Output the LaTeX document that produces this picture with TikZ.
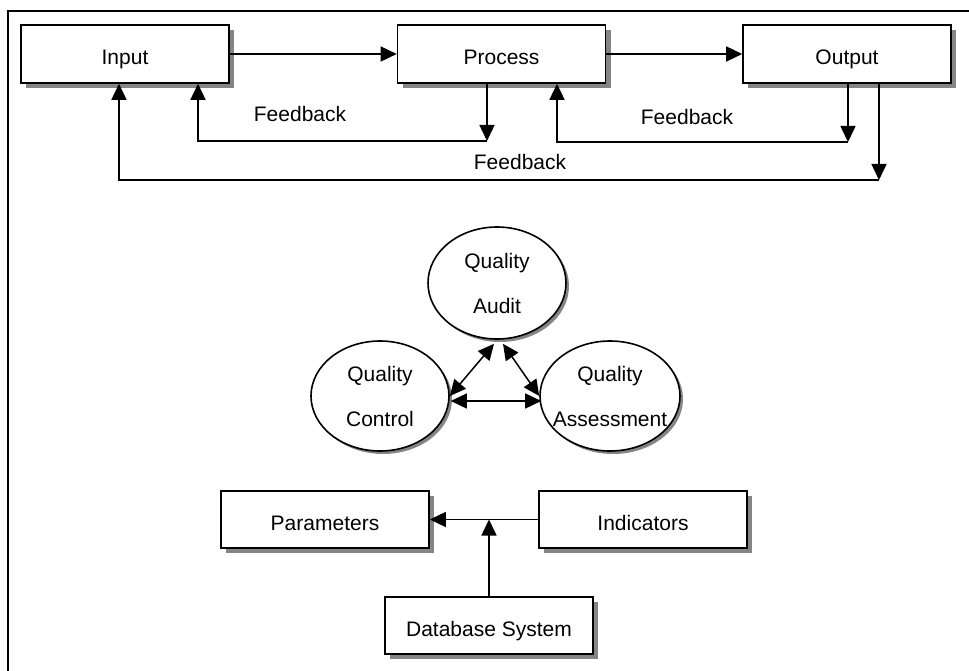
\documentclass[tikz,border=0pt]{standalone}
\usepackage{fontspec}
\setmainfont{Liberation Sans}
\usetikzlibrary{arrows.meta,shapes.geometric,shadows,calc}
\tikzset{
  boxnode/.style={draw, line width=1.6pt, fill=white, minimum width=208pt, minimum height=58pt, inner sep=0pt,
    text height=21pt, text depth=0pt,
    drop shadow={shadow xshift=5pt, shadow yshift=-5pt, fill=black!48, opacity=1}},
  ellnode/.style={ellipse, draw, line width=1.6pt, fill=white, minimum width=138pt, minimum height=112pt,
    inner xsep=-12pt, inner ysep=0pt, align=center,
    drop shadow={shadow xshift=3pt, shadow yshift=-3pt, fill=black!48, opacity=1}},
  arr/.style={line width=1.5pt, -{Triangle[length=16pt,width=15pt]}},
  darr/.style={line width=1.5pt, {Triangle[length=16pt,width=15pt]}-{Triangle[length=16pt,width=15pt]}},
  lbl/.style={inner sep=0pt},
  frame/.style={line width=1.6pt}
}
\begin{document}
\begin{tikzpicture}[x=1pt,y=-1pt, font=\fontsize{21}{25}\selectfont]
\useasboundingbox (0,0) rectangle (969,671);
% frame
\coordinate (fr0) at (8,11);
\coordinate (fr1) at (969,11);
\coordinate (fr2) at (8,671);
\draw[frame] (fr1) -- (fr0) -- (fr2);
% top row
\node[boxnode] (in) at (125,54) {Input};
\node[boxnode] (pr) at (501.5,54) {Process};
\node[boxnode] (out) at (847,54) {Output};
\draw[arr] (in.east) -- (pr.west);
\draw[arr] (pr.east) -- (out.west);
% feedback 1
\coordinate (c1) at (487,141);
\coordinate (c2) at (198,141);
\draw[arr] (pr.south -| c1) -- (c1);
\draw[arr] (c1) -- (c2) -- (c2 |- in.south);
\node[lbl] (fb1) at (300,114) {Feedback};
% feedback 2
\coordinate (c3) at (848,142);
\coordinate (c4) at (557,142);
\draw[arr] (out.south -| c3) -- (c3);
\draw[arr] (c3) -- (c4) -- (c4 |- pr.south);
\node[lbl] (fb2) at (687,117) {Feedback};
% feedback 3
\coordinate (c5) at (879,180);
\coordinate (c6) at (119,180);
\draw[arr] (out.south -| c5) -- (c5);
\draw[arr] (c5) -- (c6) -- (c6 |- in.south);
\node[lbl] (fb3) at (520,162) {Feedback};
% ellipses
\node[ellnode] (qa) at (497,283) {Quality\\[20pt]Audit};
\node[ellnode, minimum height=110pt] (qc) at (380,396) {Quality\\[20pt]Control};
\node[ellnode, minimum height=110pt, minimum width=140pt] (qs) at (610,396) {Quality\\[20pt]Assessment};
\draw[darr] (qc.east) -- ($(qa.south)+(-3,4)$);
\draw[darr] ($(qa.south)+(6,4)$) -- (qs.west);
\draw[darr] ($(qc.east)+(1,5)$) -- ($(qs.west)+(2,5)$);
% bottom
\node[boxnode, minimum height=57pt] (par) at (325,519.5) {Parameters};
\node[boxnode, minimum height=57pt] (ind) at (643,519.5) {Indicators};
\node[boxnode, minimum height=57pt] (db) at (489,625.5) {Database System};
\draw[arr] (ind.west) -- (par.east);
\draw[arr] (db.north) -- (db.north |- ind.west);
\end{tikzpicture}
\end{document}
